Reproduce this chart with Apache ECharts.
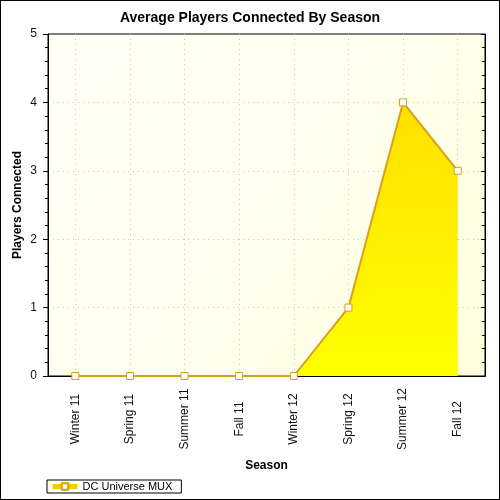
<!DOCTYPE html>
<html>
<head>
<meta charset="utf-8">
<script src="https://cdn.jsdelivr.net/npm/echarts@6/dist/echarts.min.js"></script>
<style>
  html, body { margin: 0; padding: 0; background: #fff; }
  #chart { width: 498px; height: 498px; border: 1px solid #000; }
</style>
</head>
<body>
<div id="chart"></div>
<script>
// data
var seasons = ['Winter 11', 'Spring 11', 'Summer 11', 'Fall 11', 'Winter 12', 'Spring 12', 'Summer 12', 'Fall 12'];
var players = [0, 0, 0, 0, 0, 1, 4, 3];
var seriesName = 'DC Universe MUX';

var chart = echarts.init(document.getElementById('chart'));
var font = 'Liberation Sans, Arial, sans-serif';

chart.setOption({
  animation: false,
  textStyle: { fontFamily: font },
  title: {
    text: 'Average Players Connected By Season',
    left: 'center',
    top: 5,
    textStyle: { fontSize: 14, fontWeight: 'bold', color: '#000', fontFamily: font }
  },
  legend: {
    left: 46,
    bottom: 6,
    orient: 'horizontal',
    data: [{ name: seriesName, lineStyle: { width: 5, color: '#f3cf00' } }],
    itemWidth: 25,
    itemHeight: 8,
    itemGap: 4,
    padding: [1, 9, 1, 3],
    borderColor: '#000',
    borderWidth: 1,
    textStyle: { fontSize: 11, color: '#000', fontFamily: font }
  },
  grid: {
    left: 47,
    right: 14,
    top: 33,
    bottom: 123,
    outerBoundsMode: 'none',
    containLabel: false,
    show: true,
    borderColor: '#000',
    borderWidth: 1,
    backgroundColor: new echarts.graphic.LinearGradient(0, 0, 1, 1, [
      { offset: 0, color: '#fffff4' },
      { offset: 0.5, color: '#fffff0' },
      { offset: 1, color: '#ffffdc' }
    ])
  },
  xAxis: [{
    type: 'category',
    data: seasons,
    boundaryGap: true,
    name: 'Season',
    nameLocation: 'middle',
    nameGap: 84,
    nameMoveOverlap: false,
    nameTextStyle: { fontSize: 12, fontWeight: 'bold', color: '#000', fontFamily: font },
    axisLine: { lineStyle: { color: '#000', width: 1 } },
    axisTick: { alignWithLabel: true, length: 7, lineStyle: { color: '#000' } },
    axisLabel: { rotate: 90, align: 'center', verticalAlign: 'middle', margin: 43, fontSize: 12, color: '#111', fontFamily: font },
    splitLine: { show: true, alignWithLabel: true, lineStyle: { color: '#c8c8c8', type: [1, 4] } }
  }, {
    type: 'category',
    data: seasons,
    position: 'top',
    axisLine: { show: true, lineStyle: { color: '#000', width: 1 } },
    axisTick: { show: false },
    axisLabel: { show: false },
    splitLine: { show: false }
  }],
  yAxis: [{
    type: 'value',
    min: 0,
    max: 5,
    interval: 1,
    name: 'Players Connected',
    nameLocation: 'middle',
    nameGap: 24,
    nameMoveOverlap: false,
    nameTextStyle: { fontSize: 12, fontWeight: 'bold', color: '#000', fontFamily: font },
    axisLine: { show: true, lineStyle: { color: '#000' } },
    axisTick: { show: true, length: 5, lineStyle: { color: '#000' } },
    minorTick: { show: true, splitNumber: 5, length: 3, lineStyle: { color: '#000' } },
    axisLabel: { fontSize: 12, color: '#111', margin: 11, fontFamily: font },
    splitLine: { show: true, showMaxLine: false, showMinLine: false, lineStyle: { color: '#c8c8c8', type: [1, 4] } }
  }, {
    type: 'value',
    position: 'right',
    min: 0,
    max: 5,
    interval: 1,
    axisLine: { show: true, lineStyle: { color: '#000' } },
    axisTick: { show: true, inside: true, length: 4, lineStyle: { color: '#000' } },
    minorTick: { show: true, splitNumber: 5, length: 3, lineStyle: { color: '#000' } },
    axisLabel: { show: false },
    splitLine: { show: false }
  }],
  series: [{
    name: seriesName,
    type: 'line',
    data: players,
    symbol: 'rect',
    symbolSize: 7,
    showAllSymbol: true,
    itemStyle: { color: '#fff', borderColor: '#d4a017', borderWidth: 1 },
    lineStyle: { color: '#d9a21c', width: 2 },
    areaStyle: {
      opacity: 1,
      color: new echarts.graphic.LinearGradient(0, 0, 0, 1, [
        { offset: 0, color: '#ffe000' },
        { offset: 1, color: '#ffff00' }
      ])
    },
    emphasis: { disabled: true }
  }]
});
</script>
</body>
</html>
